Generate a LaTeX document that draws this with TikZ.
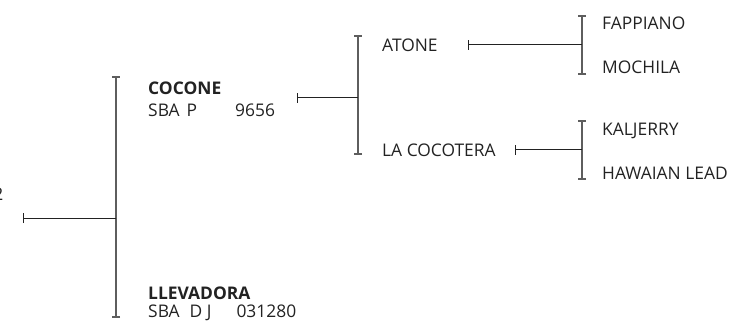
\documentclass[tikz,border=0pt]{standalone}
\usepackage{fontspec}
\setmainfont{Open Sans}
\usetikzlibrary{arrows.meta}

\definecolor{bracketgray}{HTML}{5E5E5E}
\definecolor{inkgray}{HTML}{222222}

\tikzset{
	horse/.style={anchor=west, inner sep=0pt, text=inkgray, font=\fontsize{17.4}{20}\selectfont},
	sire/.style={horse, font=\fontsize{17.4}{20}\selectfont\bfseries},
	bracket/.style={draw=bracketgray, line width=1.6pt, {Bar[width=8pt]}-{Bar[width=8pt]}},
	stem/.style={draw=inkgray, line width=1pt, {Bar[width=10pt]}-}
}

\begin{document}
\begin{tikzpicture}[x=1pt, y=-1pt]
		\useasboundingbox (0, 0) rectangle (735, 323);
		
		% subject, cut off at the left edge
		\node[horse, anchor=east] (subject) at (3.5, 194) {2};
		\coordinate (s0) at (23, 218);
		
		% first generation
		\coordinate (b0t) at (116, 76);
		\coordinate (b0b) at (116, 318);
		\draw[bracket] (b0t) -- (b0b);
		\draw[stem] (s0) -- (s0 -| b0t);
		
		\node[sire] (cocone) at (148, 88) {COCONE};
		\node[horse] (coconeid) at (148, 110) {SBA\hspace{7pt}P\hspace{38pt}9656};
		\node[sire] (llevadora) at (148, 293) {LLEVADORA};
		\node[horse] (llevadoraid) at (148, 313) {SBA\hspace{10pt}D J\hspace{25pt}031280};
		
		% second generation
		\coordinate (s1) at (297, 98);
		\coordinate (b1t) at (358, 35);
		\coordinate (b1b) at (358, 155);
		\draw[bracket] (b1t) -- (b1b);
		\draw[stem] (s1) -- (s1 -| b1t);
		
		\node[horse] (atone) at (382, 45) {ATONE};
		\node[horse] (cocotera) at (382, 150) {LA COCOTERA};
		
		% third generation
		\coordinate (s2a) at (468, 45);
		\coordinate (b2at) at (582, 15);
		\coordinate (b2ab) at (582, 75);
		\draw[bracket] (b2at) -- (b2ab);
		\draw[stem] (s2a) -- (s2a -| b2at);
		
		\coordinate (s2b) at (515, 150);
		\coordinate (b2bt) at (582, 120);
		\coordinate (b2bb) at (582, 180);
		\draw[bracket] (b2bt) -- (b2bb);
		\draw[stem] (s2b) -- (s2b -| b2bt);
		
		\node[horse] (fappiano) at (602, 23) {FAPPIANO};
		\node[horse] (mochila) at (602, 67) {MOCHILA};
		\node[horse] (kaljerry) at (602, 131) {KALJERRY};
		\node[horse] (hawaian) at (602, 173) {HAWAIAN LEAD};
	\end{tikzpicture}
\end{document}
